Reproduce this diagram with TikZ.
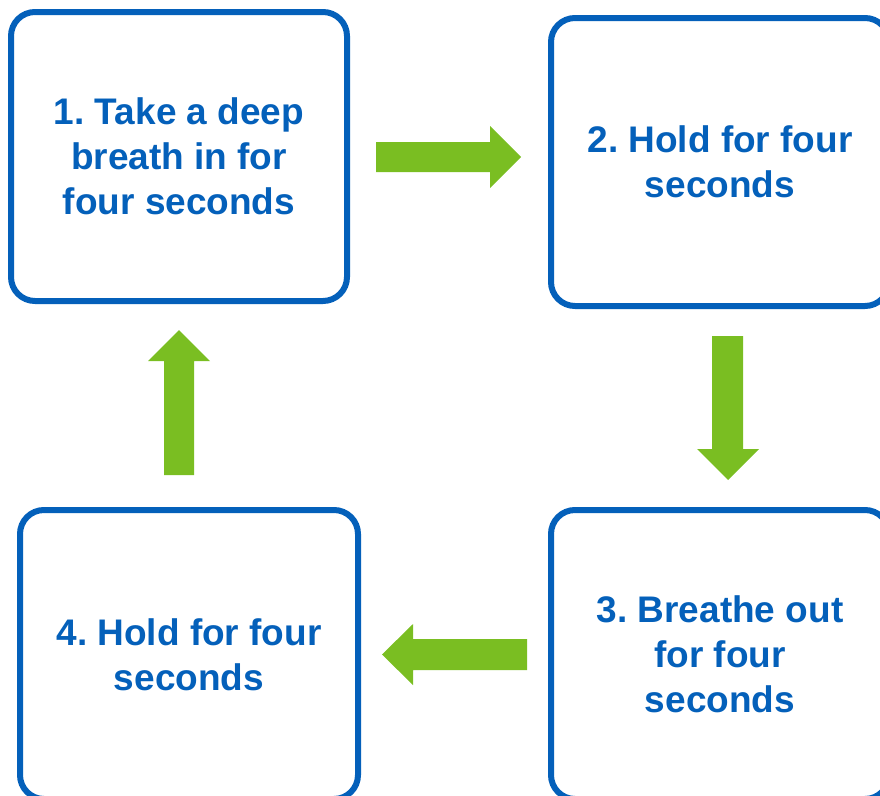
\documentclass[tikz,border=0pt]{standalone}
\usepackage{fontspec}
\setmainfont{Liberation Sans}
\frenchspacing
\definecolor{boxblue}{RGB}{4,96,186}
\definecolor{arrowgreen}{RGB}{122,190,34}
\tikzset{
  stepbox/.style={draw=boxblue, line width=6pt, rounded corners=24pt, rectangle,
    fill=white, align=center, text=boxblue,
    font=\fontsize{37}{45}\selectfont\bfseries\frenchspacing, inner sep=0pt},
  blockarrow/.style={fill=arrowgreen, draw=none}
}
\begin{document}
\begin{tikzpicture}[x=1pt,y=-1pt]
\useasboundingbox (0,0) rectangle (880,795);
\clip (0,0) rectangle (880,795);
\node[stepbox, minimum width=336pt, minimum height=289pt] (s1) at (179,156.5)
  {1. Take a deep\\breath in for\\four seconds};
\node[stepbox, minimum width=338pt, minimum height=288pt] (s2) at (720,162)
  {2. Hold for four\\seconds};
\node[stepbox, minimum width=338pt, minimum height=289pt] (s3) at (720,654.5)
  {3. Breathe out\\for four\\seconds};
\node[stepbox, minimum width=338pt, minimum height=289pt] (s4) at (189,654.5)
  {4. Hold for four\\seconds};
% right arrow s1 -> s2
\fill[blockarrow] (376,142) -- (490,142) -- (490,126) -- (521,157) -- (490,188) -- (490,172) -- (376,172) -- cycle;
% down arrow s2 -> s3
\fill[blockarrow] (712,336) -- (743,336) -- (743,449) -- (759,449) -- (728,480) -- (697,449) -- (712,449) -- cycle;
% left arrow s3 -> s4
\fill[blockarrow] (527,639) -- (413,639) -- (413,624) -- (382,654.5) -- (413,685) -- (413,670) -- (527,670) -- cycle;
% up arrow s4 -> s1
\fill[blockarrow] (164,475) -- (164,361) -- (148,361) -- (179,330) -- (210,361) -- (194,361) -- (194,475) -- cycle;
\end{tikzpicture}
\end{document}
